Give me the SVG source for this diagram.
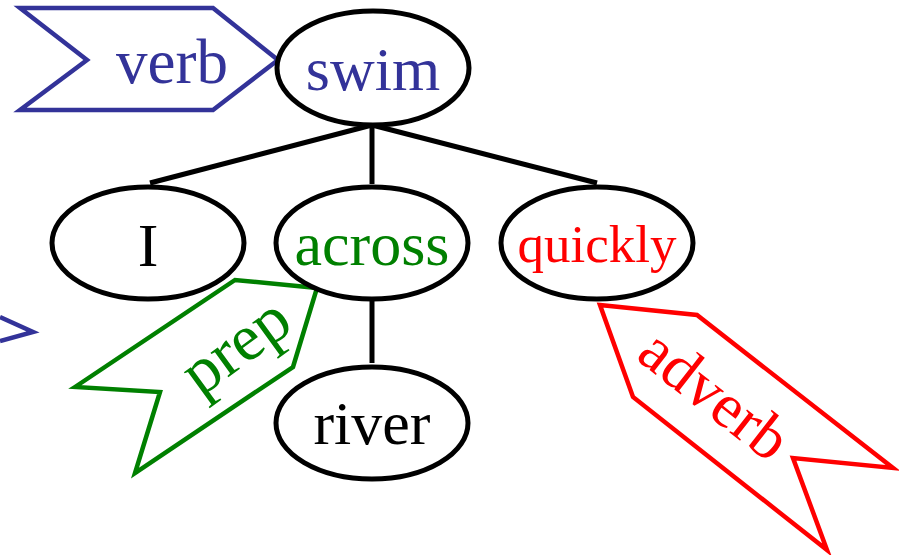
<svg xmlns="http://www.w3.org/2000/svg" width="899" height="555" viewBox="0 0 899 555">
  <style>
    .node { fill: #ffffff; stroke: #000000; stroke-width: 5; }
    .edge { stroke: #000000; stroke-width: 5; fill: none; }
    .lbl { font-family: "Liberation Serif", "Times New Roman", serif; text-anchor: middle; }
    .flag { fill: #ffffff; stroke-width: 4.5; stroke-linejoin: miter; }
  </style>
  <rect width="899" height="555" fill="#ffffff"/>

  <!-- tree edges -->
  <g id="edges">
    <line class="edge" x1="372" y1="125" x2="150" y2="183"/>
    <line class="edge" x1="372" y1="125" x2="372" y2="184"/>
    <line class="edge" x1="372" y1="125" x2="597" y2="183"/>
    <line class="edge" x1="372" y1="298" x2="372" y2="363"/>
  </g>

  <!-- part-of-speech tags -->
  <g id="tag-verb">
    <polygon class="flag" stroke="#333399" points="20,8 213,8 278,60 213,110 20,110 87,60"/>
    <text class="lbl" x="172" y="83" font-size="63" fill="#333399">verb</text>
  </g>
  <g id="tag-offscreen">
    <polyline fill="none" stroke="#333399" stroke-width="4.5" points="0,317 33,332 0,341"/>
  </g>
  <g id="tag-prep">
    <polygon class="flag" stroke="#008000" points="75,387 235,280 317,288 293,367 135,473 160,392"/>
    <text class="lbl" x="248" y="363" font-size="66" fill="#008000" transform="rotate(-36 248 363)">prep</text>
  </g>
  <g id="tag-adverb">
    <polygon class="flag" stroke="#ff0000" points="600,305 697,315 893,468 793,458 827,550 633,397"/>
    <text class="lbl" x="702" y="411" font-size="63" fill="#ff0000" transform="rotate(38 702 411)">adverb</text>
  </g>

  <!-- word nodes -->
  <g id="node-swim">
    <ellipse class="node" cx="373" cy="68" rx="96" ry="57"/>
    <text class="lbl" x="373" y="90" font-size="62" fill="#333399">swim</text>
  </g>
  <g id="node-I">
    <ellipse class="node" cx="148" cy="243" rx="96" ry="56"/>
    <text class="lbl" x="148" y="266" font-size="62" fill="#000000">I</text>
  </g>
  <g id="node-across">
    <ellipse class="node" cx="372" cy="243" rx="96" ry="56"/>
    <text class="lbl" x="372" y="265" font-size="62" fill="#008000">across</text>
  </g>
  <g id="node-quickly">
    <ellipse class="node" cx="597" cy="243" rx="96" ry="56"/>
    <text class="lbl" x="597" y="262" font-size="53" fill="#ff0000">quickly</text>
  </g>
  <g id="node-river">
    <ellipse class="node" cx="372" cy="423" rx="96" ry="56"/>
    <text class="lbl" x="372" y="444" font-size="62" fill="#000000">river</text>
  </g>
</svg>
